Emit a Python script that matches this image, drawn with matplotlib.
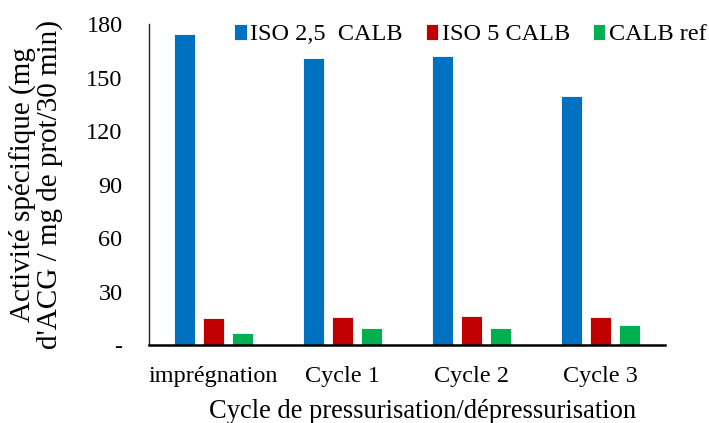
import matplotlib
matplotlib.use("Agg")
import matplotlib.pyplot as plt
import numpy as np

categories = ["imprégnation", "Cycle 1", "Cycle 2", "Cycle 3"]
series_names = ["ISO 2,5  CALB", "ISO 5 CALB", "CALB ref"]
iso25 = [174.5, 161.0, 162.0, 139.5]
iso5 = [15.0, 15.5, 16.5, 15.5]
calb_ref = [6.5, 9.5, 9.5, 11.0]
yticks = [0, 30, 60, 90, 120, 150, 180]
ytick_labels = ["-", "30", "60", "90", "120", "150", "180"]
colors = ["#0070C0", "#C00000", "#00B050"]

plt.rcParams['font.family'] = ['Liberation Serif', 'DejaVu Serif']

fig = plt.figure(figsize=(7.09, 4.23), dpi=100)
ax = fig.add_axes([149/709, 1 - 345/423, 516/709, 321/423])

x = np.arange(len(categories))
w = 0.17
offs = [-0.225, 0, 0.225]
for vals, c, o, name in zip([iso25, iso5, calb_ref], colors, offs, series_names):
    ax.bar(x + o, vals, width=w, color=c, edgecolor="white", linewidth=0.6, label=name)

ax.set_xlim(-0.5, 3.5)
ax.set_ylim(0, 180)
ax.set_yticks(yticks)
ax.set_yticklabels(ytick_labels)
ax.set_xticks(x)
ax.set_xticklabels(categories)
ax.tick_params(axis='both', length=0, labelsize=17.5, colors='black')
ax.tick_params(axis='y', pad=19)
ax.tick_params(axis='x', pad=15)
for s in ["top", "right"]:
    ax.spines[s].set_visible(False)
ax.spines["left"].set_color("#222222")
ax.spines["left"].set_linewidth(1.0)
ax.spines["bottom"].set_color("black")
ax.spines["bottom"].set_linewidth(1.8)

ax.set_xlabel("Cycle de pressurisation/dépressurisation", fontsize=19.1, labelpad=9)
ax.xaxis.label.set_x(0.531)
ax.set_ylabel("Activité spécifique (mg\nd'ACG / mg de prot/30 min)", fontsize=21,
              linespacing=1.0)
ax.yaxis.set_label_coords(-0.167, 0.5)

leg = ax.legend(loc="upper right", bbox_to_anchor=(1.099, 1.03), ncol=3, frameon=False,
                fontsize=17.5, handlelength=0.5, handleheight=0.6, handletextpad=0.15,
                columnspacing=0.95, borderaxespad=0)

fig.savefig("out.png", dpi=100)
